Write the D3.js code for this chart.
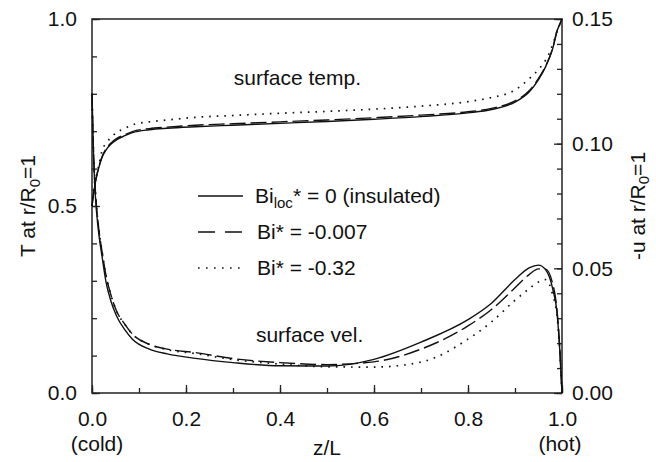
<!DOCTYPE html>
<html>
<head>
<meta charset="utf-8">
<script src="https://cdn.jsdelivr.net/npm/d3@7"></script>
<style>
  body { margin: 0; background: #fff; }
  text { font-family: "Liberation Sans", Arial, sans-serif; fill: #111; }
</style>
</head>
<body>
<div id="chart"></div>
<script>
// set the dimensions and margins of the graph
var W = 656, H = 462;
var margin = {top: 19, right: 94, bottom: 69, left: 92},
    width = W - margin.left - margin.right,
    height = H - margin.top - margin.bottom;

// axial positions z/L shared by all curves
var zPos = [0, 0.003, 0.006, 0.01, 0.015, 0.022, 0.03, 0.04, 0.052, 0.07,
            0.086, 0.122, 0.16, 0.22, 0.3, 0.4, 0.5, 0.6, 0.7, 0.8,
            0.85, 0.9, 0.93, 0.95, 0.965, 0.98, 0.99, 0.995, 1.0];

// surface temperature (left axis)
var tempInsulated = [0.50, 0.53, 0.555, 0.58, 0.605, 0.632, 0.65, 0.665, 0.677, 0.688,
                     0.696, 0.704, 0.708, 0.712, 0.716, 0.721, 0.726, 0.732, 0.739, 0.749,
                     0.758, 0.778, 0.805, 0.838, 0.872, 0.92, 0.97, 0.985, 1.0];
var tempBi007 = [0.50, 0.53, 0.556, 0.582, 0.607, 0.634, 0.653, 0.668, 0.68, 0.691,
                 0.699, 0.707, 0.711, 0.716, 0.72, 0.725, 0.73, 0.736, 0.743, 0.752,
                 0.761, 0.781, 0.808, 0.841, 0.874, 0.921, 0.97, 0.985, 1.0];
var tempBi32 = [0.50, 0.54, 0.565, 0.585, 0.612, 0.651, 0.667, 0.683, 0.696, 0.708,
                0.717, 0.725, 0.73, 0.737, 0.742, 0.748, 0.753, 0.759, 0.767, 0.779,
                0.79, 0.81, 0.84, 0.865, 0.89, 0.93, 0.97, 0.985, 1.0];

// surface velocity -u (right axis)
var velInsulated = [0.12, 0.097, 0.083, 0.072, 0.063, 0.054, 0.0444, 0.037, 0.031, 0.0253,
                    0.0216, 0.0176, 0.0157, 0.0139, 0.0122, 0.0109, 0.0108, 0.0135, 0.0204, 0.0294,
                    0.036, 0.0455, 0.0502, 0.0513, 0.0495, 0.042, 0.031, 0.018, 0.0];
var velBi007 = [0.12, 0.098, 0.085, 0.074, 0.065, 0.056, 0.047, 0.0395, 0.033, 0.0275,
                0.0236, 0.0195, 0.0176, 0.0162, 0.0138, 0.0122, 0.0114, 0.0125, 0.0176, 0.0269,
                0.0335, 0.0422, 0.0475, 0.0498, 0.0497, 0.044, 0.032, 0.019, 0.0];
var velBi32 = [0.12, 0.098, 0.085, 0.074, 0.065, 0.056, 0.047, 0.0395, 0.033, 0.0275,
               0.0236, 0.0195, 0.0174, 0.0158, 0.0134, 0.0116, 0.0105, 0.0104, 0.0124, 0.0216,
               0.0285, 0.0372, 0.0418, 0.0445, 0.0455, 0.0395, 0.03, 0.018, 0.0];

var xTicks = [0, 0.2, 0.4, 0.6, 0.8, 1.0];
var yLeftTicks = [0, 0.5, 1.0];
var yRightTicks = [0, 0.05, 0.10, 0.15];

var styles = {
  solid:  {dash: null,      legendDash: null},
  dashed: {dash: "16,5",    legendDash: "17,10"},
  dotted: {dash: "1.6,6",   legendDash: "1.6,6.4"}
};

var svg = d3.select("#chart")
  .append("svg")
    .attr("width", W)
    .attr("height", H)
  .append("g")
    .attr("transform", "translate(" + margin.left + "," + margin.top + ")");

var x = d3.scaleLinear().domain([0, 1]).range([0, width]);
var yL = d3.scaleLinear().domain([0, 1]).range([height, 0]);
var yR = d3.scaleLinear().domain([0, 0.15]).range([height, 0]);

// minor ticks (inward, no labels)
function minor(axis, vals) {
  return axis.tickValues(vals).tickFormat("").tickSizeOuter(0);
}
svg.append("g").attr("class", "ax")
  .attr("transform", "translate(0," + height + ")")
  .call(minor(d3.axisBottom(x), d3.range(0, 11).map(function(i){ return i / 10; })).tickSizeInner(-5));
svg.append("g").attr("class", "ax")
  .call(minor(d3.axisLeft(yL), d3.range(0, 11).map(function(i){ return i / 10; })).tickSizeInner(-5));
svg.append("g").attr("class", "ax")
  .attr("transform", "translate(" + width + ",0)")
  .call(minor(d3.axisRight(yR), d3.range(0, 16).map(function(i){ return i / 100; })).tickSizeInner(-5));

// major ticks with labels
var xAxis = svg.append("g").attr("class", "ax")
  .attr("transform", "translate(0," + height + ")")
  .call(d3.axisBottom(x).tickValues(xTicks).tickFormat(d3.format(".1f")).tickSizeInner(-8).tickSizeOuter(0).tickPadding(18));
var yAxisL = svg.append("g").attr("class", "ax")
  .call(d3.axisLeft(yL).tickValues(yLeftTicks).tickFormat(d3.format(".1f")).tickSizeInner(-8).tickSizeOuter(0).tickPadding(15));
var yAxisR = svg.append("g").attr("class", "ax")
  .attr("transform", "translate(" + width + ",0)")
  .call(d3.axisRight(yR).tickValues(yRightTicks).tickFormat(d3.format(".2f")).tickSizeInner(-8).tickSizeOuter(0).tickPadding(10));

svg.selectAll(".ax path").remove();
svg.selectAll(".ax line").attr("stroke", "#222").attr("stroke-width", 1.3);
svg.selectAll(".ax text").style("font-size", "21px").style("font-family", "Liberation Sans, Arial, sans-serif").attr("fill", "#111");

// frame
svg.append("rect")
  .attr("width", width).attr("height", height)
  .attr("fill", "none").attr("stroke", "#222").attr("stroke-width", 1.5);

// curves
var clip = svg.append("clipPath").attr("id", "clip")
  .append("rect").attr("x", -1).attr("y", -1).attr("width", width + 2).attr("height", height + 2);

function series(vals, yScale) {
  return zPos.map(function(z, i) { return [x(z), yScale(vals[i])]; });
}
var line = d3.line().curve(d3.curveMonotoneX);

var curves = [
  {vals: tempInsulated, y: yL, s: "solid"},
  {vals: tempBi007,     y: yL, s: "dashed"},
  {vals: tempBi32,      y: yL, s: "dotted"},
  {vals: velInsulated,  y: yR, s: "solid"},
  {vals: velBi007,      y: yR, s: "dashed"},
  {vals: velBi32,       y: yR, s: "dotted"}
];

svg.append("g").attr("clip-path", "url(#clip)")
  .selectAll("path")
  .data(curves)
  .enter()
  .append("path")
    .attr("d", function(d) { return line(series(d.vals, d.y)); })
    .attr("fill", "none")
    .attr("stroke", "#111")
    .attr("stroke-width", function(d) { return d.s == "dotted" ? 1.7 : 1.4; })
    .attr("stroke-dasharray", function(d) { return styles[d.s].dash; });

// annotations
svg.append("text").attr("x", x(0.437)).attr("y", 66).attr("text-anchor", "middle")
  .style("font-size", "21px").text("surface temp.");
svg.append("text").attr("x", x(0.463)).attr("y", 323).attr("text-anchor", "middle")
  .style("font-size", "21px").text("surface vel.");

// legend
var legendRows = [
  {s: "solid",  y: 196},
  {s: "dashed", y: 232},
  {s: "dotted", y: 268}
];
var lg = svg.append("g").attr("transform", "translate(" + (-margin.left) + "," + (-margin.top) + ")");
lg.selectAll("line")
  .data(legendRows)
  .enter()
  .append("line")
    .attr("x1", 198).attr("x2", 243)
    .attr("y1", function(d) { return d.y; })
    .attr("y2", function(d) { return d.y; })
    .attr("stroke", "#111")
    .attr("stroke-width", function(d) { return d.s == "dotted" ? 1.7 : 1.4; })
    .attr("stroke-dasharray", function(d) { return styles[d.s].legendDash; });

var t1 = lg.append("text").attr("x", 255).attr("y", 203).style("font-size", "21px");
t1.append("tspan").text("Bi");
t1.append("tspan").attr("dy", 5).style("font-size", "15px").text("loc");
t1.append("tspan").attr("dy", -5).text("* = 0 (insulated)");
lg.append("text").attr("x", 257).attr("y", 239).style("font-size", "21px").text("Bi* = -0.007");
lg.append("text").attr("x", 257).attr("y", 275).style("font-size", "21px").text("Bi* = -0.32");

// axis titles
var full = d3.select("svg");
full.append("text").attr("x", 97).attr("y", 451).attr("text-anchor", "middle")
  .style("font-size", "21px").text("(cold)");
full.append("text").attr("x", 560).attr("y", 451).attr("text-anchor", "middle")
  .style("font-size", "21px").text("(hot)");
full.append("text").attr("x", margin.left + width / 2).attr("y", 455).attr("text-anchor", "middle")
  .style("font-size", "21px").text("z/L");

var tl = full.append("text")
  .attr("transform", "translate(35," + (margin.top + height / 2) + ") rotate(-90)")
  .attr("text-anchor", "middle").style("font-size", "21px");
tl.append("tspan").text("T at r/R");
tl.append("tspan").attr("dy", 5).style("font-size", "15px").text("0");
tl.append("tspan").attr("dy", -5).text("=1");

var tr = full.append("text")
  .attr("transform", "translate(645," + (margin.top + height / 2) + ") rotate(-90)")
  .attr("text-anchor", "middle").style("font-size", "21px");
tr.append("tspan").text("-u at r/R");
tr.append("tspan").attr("dy", 4).style("font-size", "15px").text("0");
tr.append("tspan").attr("dy", -4).text("=1");
</script>
</body>
</html>
